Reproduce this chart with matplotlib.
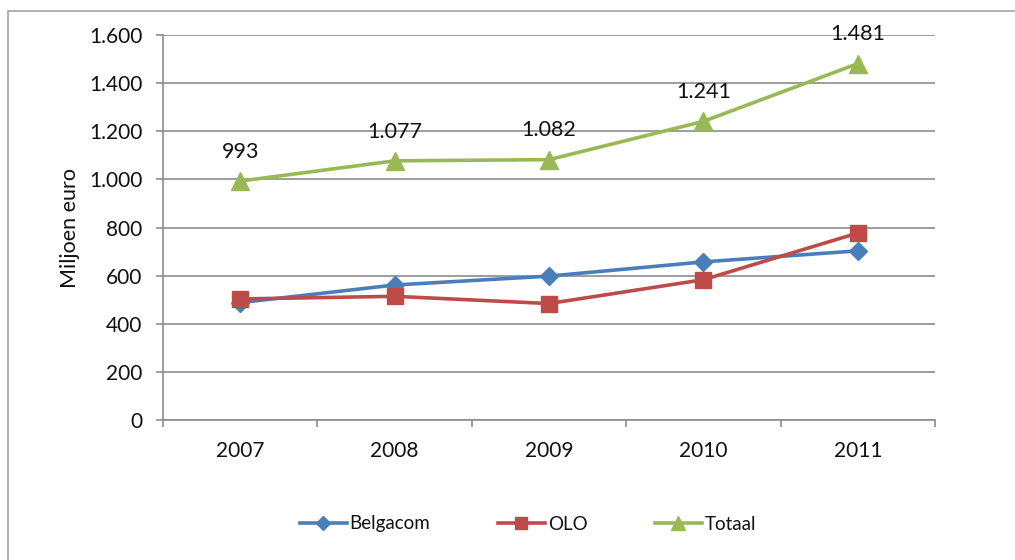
import matplotlib
matplotlib.use("Agg")
import matplotlib.pyplot as plt
from matplotlib.patches import Rectangle
from matplotlib.ticker import FuncFormatter

years = ["2007", "2008", "2009", "2010", "2011"]
belgacom = [488, 561, 598, 657, 703]
olo = [503, 514, 484, 583, 777]
totaal = [993, 1077, 1082, 1241, 1481]
totaal_labels = ["993", "1.077", "1.082", "1.241", "1.481"]
yticks = [0, 200, 400, 600, 800, 1000, 1200, 1400, 1600]

plt.rcParams['font.family'] = ['Lato', 'DejaVu Sans']

fig = plt.figure(figsize=(10.15, 5.6), dpi=100)
fig.patches.append(Rectangle((8/1015, -0.1), 1.2, 1 - 11/560 + 0.1,
                             transform=fig.transFigure, fill=False,
                             edgecolor='#a6a6a6', linewidth=1.2, zorder=-1))

ax = fig.add_axes([163/1015, 1 - 420/560, (935-163)/1015, (420-35)/560])
x = list(range(len(years)))
grid_c = '#8c8c8c'

ax.plot(x, belgacom, color='#4A7EBB', lw=2.6, marker='D', ms=9, label='Belgacom', zorder=3)
ax.plot(x, olo, color='#BE4B48', lw=2.6, marker='s', ms=11, label='OLO', zorder=3)
ax.plot(x, totaal, color='#98B954', lw=2.6, marker='^', ms=13, label='Totaal', zorder=3)

for xi, v, t in zip(x, totaal, totaal_labels):
    ax.annotate(t, (xi, v), xytext=(0, 21), textcoords='offset points',
                ha='center', va='center', fontsize=15.5, color='#111111')

ax.set_xlim(-0.5, len(years) - 0.5)
ax.set_ylim(0, 1600)
ax.set_yticks(yticks)
ax.yaxis.set_major_formatter(FuncFormatter(lambda v, p: f"{int(v):,}".replace(",", ".")))
ax.set_xticks([i - 0.5 for i in range(len(years) + 1)])
ax.set_xticklabels([])
ax.set_xticks(x, minor=True)
ax.set_xticklabels(years, minor=True)
ax.tick_params(axis='x', which='major', length=5, width=1.2, color=grid_c)
ax.tick_params(axis='x', which='minor', length=0, pad=15, labelsize=15, labelcolor='#111111')
ax.tick_params(axis='y', length=5, width=1.2, color=grid_c, pad=10, labelsize=15, labelcolor='#111111')
ax.grid(axis='y', color=grid_c, lw=1.2)
ax.set_axisbelow(True)
for s in ['top', 'right']:
    ax.spines[s].set_visible(False)
for s in ['left', 'bottom']:
    ax.spines[s].set_color(grid_c)
    ax.spines[s].set_linewidth(1.2)

fig.text(70/1015, 1 - 228/560, "Miljoen euro", rotation=90, ha='center', va='center',
         fontsize=15.5, color='#111111')

leg = fig.legend(loc='center', bbox_to_anchor=(528/1015, 1 - 524/560), ncol=3, frameon=False,
                 fontsize=13.5, handlelength=2.5, columnspacing=3.6, handletextpad=0.15,
                 markerscale=0.75)
for t in leg.get_texts():
    t.set_color('#111111')

fig.savefig("out.png", dpi=100)
